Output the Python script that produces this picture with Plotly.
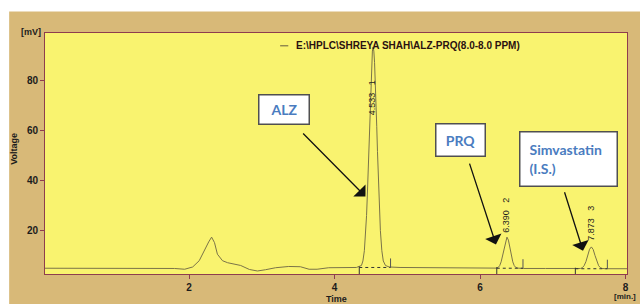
import plotly.graph_objects as go

# ---- data ----
time_min = [0.02, 0.5, 1.0, 1.5, 1.8, 1.94, 2.05, 2.14, 2.20, 2.23, 2.27, 2.31, 2.35, 2.39, 2.46,
            2.53, 2.60, 2.71, 2.83, 2.94, 3.05, 3.19, 3.37, 3.53, 3.65, 3.76, 3.92, 4.10, 4.30,
            4.37, 4.39, 4.41, 4.43, 4.44, 4.45, 4.46, 4.47, 4.48, 4.49, 4.50, 4.51, 4.52, 4.53,
            4.54, 4.55, 4.56, 4.57, 4.58, 4.59, 4.60, 4.61, 4.62, 4.63, 4.65, 4.67, 4.70, 4.75,
            4.9, 5.2, 5.6, 6.0, 6.20, 6.22, 6.25, 6.27, 6.29, 6.31, 6.33, 6.35, 6.37, 6.39, 6.41,
            6.43, 6.45, 6.47, 6.49, 6.52, 6.6, 6.9, 7.2, 7.35, 7.38, 7.405, 7.43, 7.455, 7.48,
            7.505, 7.53, 7.555, 7.58, 7.605, 7.63, 7.655, 7.68, 7.72, 7.85, 8.02]
voltage_mv = [5.0, 5.0, 5.0, 5.0, 4.9, 4.6, 5.5, 8.0, 11.7, 13.2, 15.5, 17.4, 15.2, 10.6, 8.0,
              7.2, 6.7, 6.1, 4.5, 3.9, 4.4, 5.2, 5.7, 5.6, 4.6, 4.6, 5.2, 5.3, 5.3,
              6.1, 7.9, 12.0, 20.0, 26.0, 33.4, 42.0, 51.6, 61.6, 71.4, 80.2, 87.1, 91.6, 93.2,
              91.6, 87.1, 80.2, 71.4, 61.6, 51.6, 42.0, 33.4, 26.0, 20.0, 12.0, 7.9, 6.1, 5.5,
              5.3, 5.2, 5.1, 5.0, 5.0, 5.05, 5.35, 6.05, 7.55, 10.1, 13.4, 16.2, 17.4, 16.2, 13.4,
              10.1, 7.55, 6.05, 5.35, 5.05, 4.9, 4.9, 4.8, 4.8, 4.9, 5.2, 6.0, 7.6, 10.1,
              12.5, 13.5, 12.5, 10.1, 7.6, 6.0, 5.2, 4.9, 4.8, 4.8, 4.8]

peak_rt_labels = ["4.533", "6.390", "7.873"]
peak_numbers = ["1", "2", "3"]
peak_label_x = [4.51, 6.356, 7.52]
peak_label_y = [73.0, 26.3, 23.0]

peak_start = [4.34, 6.23, 7.31]
peak_end = [4.77, 6.59, 7.75]
peak_base = [5.3, 5.0, 4.8]

compound_names = ["ALZ", "PRQ", "Simvastatin<br>(I.S.)"]
box_x = [3.299, 5.726, 7.210]
box_y = [68.3, 56.0, 48.6]
box_w = [49, 48, 78]
box_h = [28, 31, 35]
box_pad = [0, 0, 9]
arrow_tail_x = [3.548, 5.849, 7.155]
arrow_tail_y = [59.3, 47.3, 35.9]
arrow_head_x = [4.425, 6.219, 7.415]
arrow_head_y = [33.6, 14.5, 12.0]

x_ticks = [2, 4, 6, 8]
y_ticks = [20, 40, 60, 80]
x_range = [0.02, 8.02]
y_range = [2.7, 98.8]

series_name = "E:\\HPLC\\SHREYA SHAH\\ALZ-PRQ(8.0-8.0 PPM)"

TAN = "#D8B978"
YELLOW = "#F9F36F"
AXC = "#8E3D4E"
TXT = "#1c1c1c"
FONT = "Liberation Sans, Arial"

fig = go.Figure()
fig.add_trace(go.Scatter(x=time_min, y=voltage_mv, mode="lines",
                         line=dict(color="#7b7348", width=1), name=series_name,
                         showlegend=False, hoverinfo="skip"))

# integration baselines and event marks
for s, e, b in zip(peak_start, peak_end, peak_base):
    fig.add_trace(go.Scatter(x=[s, e], y=[b, b], mode="lines",
                             line=dict(color="#333333", width=1, dash="dot"),
                             showlegend=False, hoverinfo="skip"))
    fig.add_trace(go.Scatter(x=[s, s], y=[y_range[0], b + 0.4], mode="lines",
                             line=dict(color="#333333", width=1),
                             showlegend=False, hoverinfo="skip"))
    fig.add_trace(go.Scatter(x=[e, e], y=[b, b + 3.6], mode="lines",
                             line=dict(color="#555555", width=1),
                             showlegend=False, hoverinfo="skip"))

annotations = []
for rt, n, x, y in zip(peak_rt_labels, peak_numbers, peak_label_x, peak_label_y):
    annotations.append(dict(x=x, y=y, xref="x", yref="y", text=f"{rt}   {n}", showarrow=False,
                            textangle=-90, font=dict(family=FONT, size=9, color=TXT)))
for name, x, y, w, h, p in zip(compound_names, box_x, box_y, box_w, box_h, box_pad):
    multi = "<br>" in name
    annotations.append(dict(x=x, y=y, xref="x", yref="y", text=name,
                            showarrow=False, width=w, height=h, bgcolor="white",
                            bordercolor="#505050", borderwidth=1.5, borderpad=p,
                            align="left" if multi else "center", valign="middle",
                            font=dict(family="Lato", size=14, color="#4A7CC0", weight="bold")))
for tx, ty, hx, hy in zip(arrow_tail_x, arrow_tail_y, arrow_head_x, arrow_head_y):
    annotations.append(dict(x=hx, y=hy, ax=tx, ay=ty, xref="x", yref="y", axref="x", ayref="y",
                            text="", showarrow=True, arrowhead=1, arrowsize=2.2, arrowwidth=1.3,
                            arrowcolor="#111111"))
annotations += [
    dict(x=0.428, y=0.947, xref="paper", yref="paper", text=f"<b>{series_name}</b>",
         showarrow=False, xanchor="left", yanchor="middle",
         font=dict(family=FONT, size=10, color="#2a1010")),
    dict(x=-0.0248, y=1.004, xref="paper", yref="paper", text="<b>[mV]</b>", showarrow=False,
         xanchor="center", yanchor="middle", font=dict(family=FONT, size=9, color=TXT)),
    dict(x=-0.053, y=0.52, xref="paper", yref="paper", text="<b>Voltage</b>", showarrow=False,
         textangle=-90, xanchor="center", yanchor="middle", font=dict(family=FONT, size=9, color=TXT)),
    dict(x=0.5017, y=-0.073, xref="paper", yref="paper", text="<b>Time</b>", showarrow=False,
         xanchor="center", yanchor="top", font=dict(family=FONT, size=9, color=TXT)),
    dict(x=1.0188, y=-0.093, xref="paper", yref="paper", text="<b>[min.]</b>", showarrow=False,
         xanchor="right", yanchor="middle", font=dict(family=FONT, size=8, color=TXT)),
]

shapes = [
    # thin white strips along the top and left edge of the scanned image
    dict(type="rect", xref="paper", yref="paper", x0=-0.08, x1=1.05, y0=1.0894, y1=1.14,
         fillcolor="white", line=dict(width=0), layer="below"),
    dict(type="rect", xref="paper", yref="paper", x0=-0.08, x1=-0.0616, y0=-0.2, y1=1.14,
         fillcolor="white", line=dict(width=0), layer="below"),
    dict(type="line", xref="paper", yref="paper", x0=0.404, x1=0.418, y0=0.947, y1=0.947,
         line=dict(color="#7b7348", width=1.2)),
]

fig.update_layout(
    width=640, height=304,
    margin=dict(l=45, r=11, t=33, b=25),
    paper_bgcolor=TAN, plot_bgcolor=YELLOW,
    showlegend=False,
    annotations=annotations, shapes=shapes,
    xaxis=dict(range=x_range, tickvals=x_ticks, ticktext=[str(v) for v in x_ticks],
               showgrid=False, zeroline=False, showline=True, mirror=True,
               linecolor=AXC, linewidth=1, ticks="outside", ticklen=4, tickcolor=AXC,
               tickfont=dict(family=FONT, size=10, color=TXT, weight="bold")),
    yaxis=dict(range=y_range, tickvals=y_ticks, ticktext=[str(v) for v in y_ticks],
               showgrid=False, zeroline=False, showline=True, mirror=True,
               linecolor=AXC, linewidth=1, ticks="outside", ticklen=4, tickcolor=AXC,
               tickfont=dict(family=FONT, size=10, color=TXT, weight="bold")),
)

fig.write_html("out.html", config={"displayModeBar": False},
               post_script="document.body.style.margin='0';document.body.style.overflow='hidden';")
